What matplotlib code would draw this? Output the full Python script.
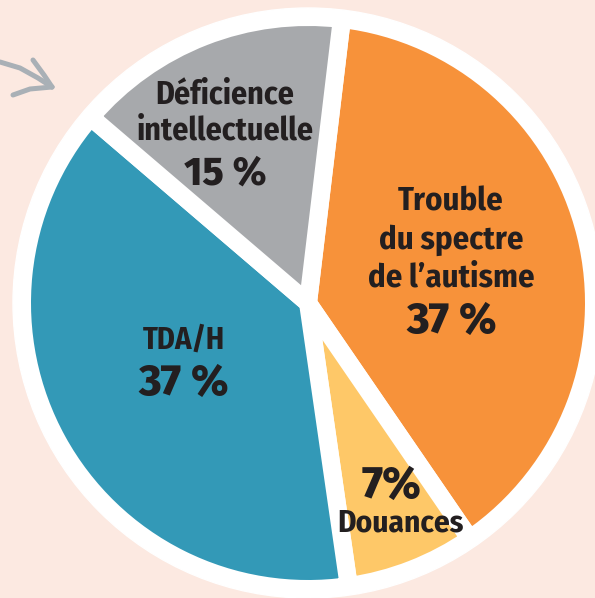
import numpy as np
import matplotlib
matplotlib.use("Agg")
import matplotlib.pyplot as plt
from matplotlib.patches import Circle

# data
labels = ["Trouble\ndu spectre\nde l\u2019autisme", "Douances", "TDA/H", "D\u00e9ficience\nintellectuelle"]
values = [37, 7, 37, 15]
pct_text = ["37 %", "7%", "37 %", "15 %"]
colors = ["#F7923A", "#FEC868", "#3399B7", "#A7A9AC"]

W, H = 595, 598
bg = "#FCE9E1"
ink = "#231F20"
narrow = ["Fira Sans Condensed", "PT Sans Narrow", "DejaVu Sans"]
wide = ["Fira Sans", "PT Sans", "DejaVu Sans"]

fig = plt.figure(figsize=(W / 100, H / 100), dpi=100, facecolor=bg)
ax = fig.add_axes([0, 0, 1, 1])

cx, cy = 308, H - 303
gap = 18  # white separator, px
px2pt = 72 / 100

ax.add_patch(Circle((cx, cy), 295, color="white", zorder=1))
wedges, _ = ax.pie(values, colors=colors, startangle=83.2, counterclock=False,
                   radius=277 + gap / 2, center=(cx, cy), frame=True,
                   wedgeprops=dict(edgecolor="white", linewidth=gap * px2pt,
                                   joinstyle="round", zorder=2))
ax.set_xlim(0, W)
ax.set_ylim(0, H)
ax.set_aspect("equal")
ax.axis("off")

def Y(y):
    return H - y

# labels (image coordinates)
ax.text(451, Y(240), labels[0], ha="center", va="center", family=narrow,
        weight="bold", fontsize=23.5, color=ink, linespacing=1.25, zorder=3)
ax.text(452, Y(322), pct_text[0], ha="center", va="center", family=wide,
        weight=800, fontsize=31, color=ink, zorder=3)

ax.text(392, Y(486), pct_text[1], ha="center", va="center", family=wide,
        weight=800, fontsize=32, color=ink, zorder=3)
ax.text(400, Y(523), labels[1], ha="center", va="center", family=narrow,
        weight="bold", fontsize=22.5, color=ink, zorder=3)

ax.text(184, Y(340), labels[2], ha="center", va="center", family=narrow,
        weight="bold", fontsize=22, color=ink, zorder=3)
ax.text(184, Y(384), pct_text[2], ha="center", va="center", family=wide,
        weight=800, fontsize=31, color=ink, zorder=3)

ax.text(225, Y(113), labels[3], ha="center", va="center", family=narrow,
        weight="bold", fontsize=23, color=ink, linespacing=1.15, zorder=3)
ax.text(225, Y(174), pct_text[3], ha="center", va="center", family=wide,
        weight=800, fontsize=28, color=ink, zorder=3)

# little arrow top-left
arrow_col = "#A9B0B6"
lw = 5 * px2pt
ax.plot([0, 20, 38, 52], [Y(62), Y(68), Y(78), Y(87)], color=arrow_col, lw=lw,
        solid_capstyle="round", solid_joinstyle="round", zorder=3)
ax.plot([33, 44, 52], [Y(60), Y(75), Y(87)], color=arrow_col, lw=lw,
        solid_capstyle="round", solid_joinstyle="round", zorder=3)
ax.plot([52, 30, 13], [Y(87), Y(89), Y(95)], color=arrow_col, lw=lw,
        solid_capstyle="round", solid_joinstyle="round", zorder=3)

fig.savefig("out.png", dpi=100, facecolor=bg)
